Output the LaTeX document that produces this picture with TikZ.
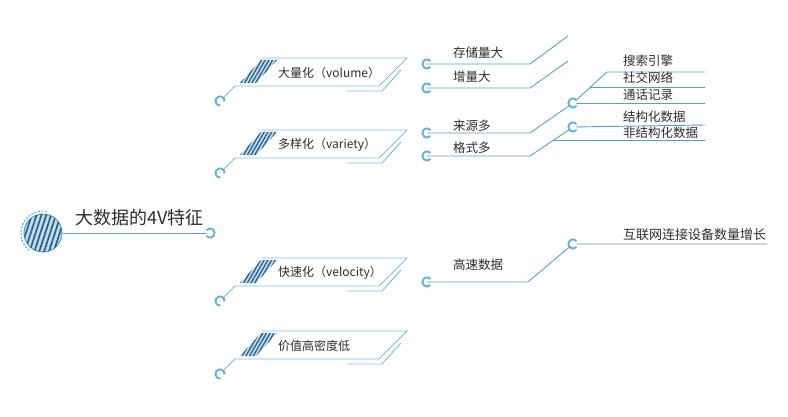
\documentclass[tikz,border=0pt]{standalone}
\usepackage{fontspec}
\newfontfamily\cjk{Noto Sans CJK SC}
\usetikzlibrary{patterns.meta}
\definecolor{lineblue}{RGB}{85,160,200}
\definecolor{boxblue}{RGB}{120,192,226}
\definecolor{ringblue}{RGB}{100,178,216}
\definecolor{hatchdark}{RGB}{45,95,132}
\definecolor{hatchlight}{RGB}{190,222,238}
\definecolor{txt}{RGB}{45,45,45}
\tikzset{
  ln/.style={draw=lineblue, line width=0.9pt},
  bx/.style={draw=boxblue, line width=0.9pt},
  cring/.pic={\draw[ringblue, line width=1.9pt] (40:4.6) arc (40:320:4.6);},
  boxtext/.style={font=\cjk\fontsize{12}{14}\selectfont, text=txt, inner sep=0pt, anchor=west},
  brtext/.style={font=\cjk\fontsize{12.5}{14}\selectfont, text=txt, inner sep=0pt, anchor=west},
  rttext/.style={font=\cjk\fontsize{12.5}{15}\selectfont, text=txt, inner sep=0pt, anchor=west},
  hatchfill/.style={fill=hatchlight, postaction={pattern={Lines[angle=60,distance=3.2pt,line width=1.3pt]}, pattern color=hatchdark}},
}
\newcommand{\featbox}[3]{%
  \node[boxtext] (#1) at (278,#2) {#3};
  \coordinate (#1r) at (220,#2+28);
  \path[hatchfill] (240,#2+10) -- (256,#2+10) -- (277,#2-13) -- (261,#2-13) -- cycle;
  \draw[bx] (262,#2-15) -- (407,#2-15) -- (379,#2+13) -- (235,#2+13) -- (#1r);
  \draw[bx] (347,#2+18) -- (382,#2+18) -- (401,#2-3);
  \fill[white] (#1r) circle (3.5);
  \pic[rotate=-45] at (#1r) {cring};
}
\begin{document}
\begin{tikzpicture}[x=1pt,y=-1pt]
\useasboundingbox (0,0) rectangle (788,417);
% main node
\node[circle, minimum size=38pt, inner sep=0pt, draw=lineblue, line width=1pt,
  fill=hatchlight, postaction={pattern={Lines[angle=72,distance=4.6pt,line width=1.7pt]}, pattern color=hatchdark}] (main) at (43,233) {};
\draw[lineblue, line width=0.9pt, dash pattern=on 2pt off 1.5pt] (43,233) ++(-80:22) arc (-80:-235:22);
\node[font=\cjk\fontsize{18}{20}\selectfont, text=txt, inner sep=0pt, anchor=west] (title) at (75,218) {大数据的4V特征};
\coordinate (mainr) at (210,233);
\draw[ln] (main.east) -- (mainr);
\fill[white] (mainr) circle (3.5);
\pic[rotate=180] at (mainr) {cring};

% feature boxes
\featbox{vol}{73}{大量化（volume）}
\featbox{var}{145}{多样化（variety）}
\featbox{vel}{273}{快速化（velocity）}
\featbox{val}{346}{价值高密度低}

% volume branches
\coordinate (r1) at (427,64);
\coordinate (r2) at (427,88);
\coordinate (e1) at (568,36);
\coordinate (e2) at (568,61);
\node[brtext] (b1) at (453,53) {存储量大};
\node[brtext] (b2) at (453,77) {增量大};
\draw[ln] (r1) -- (530,64) -- (e1);
\draw[ln] (r2) -- (530,88) -- (e2);
\pic at (r1) {cring};
\pic at (r2) {cring};

% variety branches
\coordinate (r3) at (427,133);
\coordinate (r4) at (427,156);
\coordinate (m3) at (573,103);
\coordinate (m4) at (573,127);
\node[brtext] (b3) at (453,126) {来源多};
\node[brtext] (b4) at (453,148) {格式多};
\draw[ln] (r3) -- (530,133) -- (m3) -- (607,72) -- (705,72);
\draw[ln] (590,87) -- (705,87);
\draw[ln] (m3) -- (705,103);
\draw[ln] (r4) -- (530,156) -- (m4) -- (705,125);
\draw[ln] (553.5,140) -- (705,140);
\fill[white] (m3) circle (3.5);
\fill[white] (m4) circle (3.5);
\pic at (r3) {cring};
\pic at (r4) {cring};
\pic at (m3) {cring};
\pic at (m4) {cring};
\node[rttext] (s1) at (623,61) {搜索引擎};
\node[rttext] (s2) at (623,78) {社交网络};
\node[rttext] (s3) at (623,95) {通话记录};
\node[rttext] (s4) at (623,117) {结构化数据};
\node[rttext] (s5) at (623,133) {非结构化数据};

% velocity branches
\coordinate (r5) at (427,282);
\coordinate (m5) at (573,244);
\node[brtext] (b5) at (453,265) {高速数据};
\draw[ln] (r5) -- (528,282) -- (m5) -- (767,244);
\fill[white] (m5) circle (3.5);
\pic at (r5) {cring};
\pic at (m5) {cring};
\node[font=\cjk\fontsize{13}{15}\selectfont, text=txt, inner sep=0pt, anchor=west] (s6) at (623,235) {互联网连接设备数量增长};
\end{tikzpicture}
\end{document}
